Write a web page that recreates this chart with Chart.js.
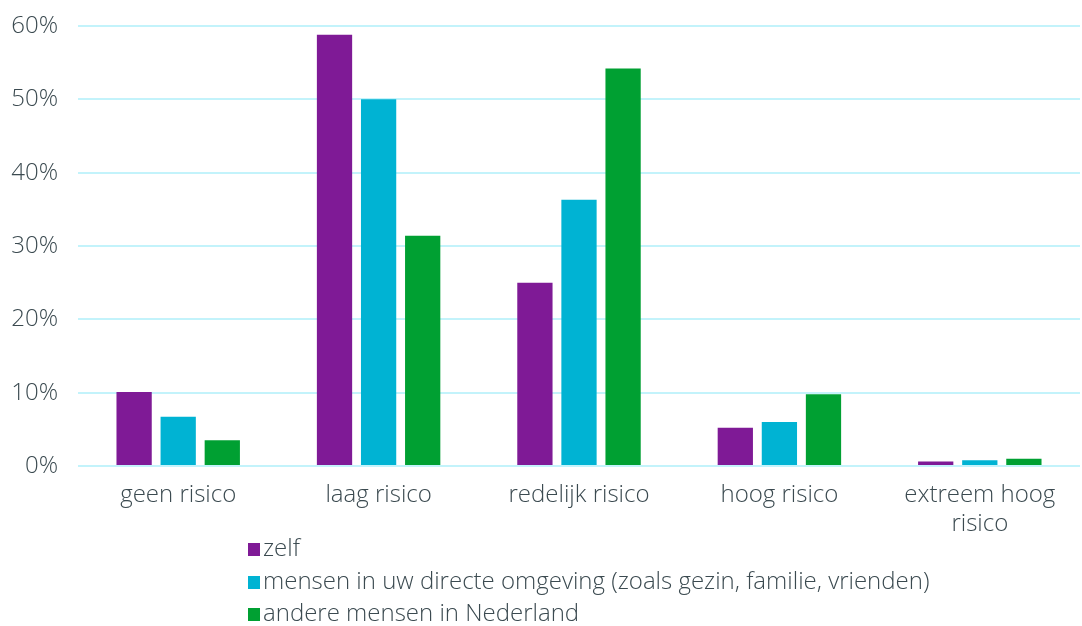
<!DOCTYPE html>
<html>
<head>
<meta charset="utf-8">
<script src="https://cdn.jsdelivr.net/npm/chart.js@4"></script>
<style>
    html, body { margin: 0; padding: 0; background: #fff; }
    #wrap { position: relative; width: 1082px; height: 626px; }
    #legend {
        position: absolute; left: 248px; top: 531px;
        font-family: "Open Sans", sans-serif; font-weight: 300; font-size: 24px; color: #3b4a50;
    }
    .item { height: 32.5px; line-height: 32px; white-space: nowrap; }
    .box { display: inline-block; width: 12px; height: 13px; margin-right: 3px; vertical-align: 0px; }
</style>
</head>
<body>
<div id="wrap">
    <canvas id="chart" width="1082" height="626"></canvas>
    <div id="legend"></div>
</div>
<script>
const categories = ["geen risico", "laag risico", "redelijk risico", "hoog risico", ["extreem hoog", "risico"]]
const seriesNames = ["zelf", "mensen in uw directe omgeving (zoals gezin, familie, vrienden)", "andere mensen in Nederland"]
const zelf = [10.1, 58.8, 25.0, 5.2, 0.6]
const omgeving = [6.7, 50.0, 36.3, 6.0, 0.8]
const nederland = [3.5, 31.4, 54.2, 9.8, 1.0]
const colors = ["#7f1a96", "#00b3d3", "#00a032"]

const textColor = "#3b4a50"
const font = { family: "'Open Sans', sans-serif", size: 24, weight: "300" }

const ctx = document.getElementById("chart").getContext("2d")

const chart = new Chart(ctx, {
    type: "bar",
    data: {
        labels: categories,
        datasets: [zelf, omgeving, nederland].map((d, i) => ({
            label: seriesNames[i],
            data: d,
            backgroundColor: colors[i],
            categoryPercentage: 0.66,
            barPercentage: 0.8
        }))
    },
    options: {
        responsive: false,
        animation: false,
        layout: { padding: { top: 26, right: 2, left: 0, bottom: 80 } },
        plugins: {
            legend: { display: false },
            tooltip: { enabled: false }
        },
        scales: {
            x: {
                grid: { display: false, drawTicks: false },
                border: { display: false },
                ticks: { color: textColor, font: font, padding: 15, maxRotation: 0 },
                afterFit: s => { s.height = 80 }
            },
            y: {
                min: 0,
                max: 60,
                grid: { color: "#c3f3fb", lineWidth: 2, drawTicks: false },
                border: { display: false },
                ticks: {
                    stepSize: 10,
                    color: textColor,
                    font: font,
                    padding: 20,
                    callback: v => v + "%"
                },
                afterFit: s => { s.width = 78; s.paddingTop = 0; s.paddingBottom = 0 }
            }
        }
    }
})

const legend = document.getElementById("legend")
chart.data.datasets.forEach(ds => {
    const row = document.createElement("div")
    row.className = "item"
    const box = document.createElement("span")
    box.className = "box"
    box.style.background = ds.backgroundColor
    row.appendChild(box)
    row.appendChild(document.createTextNode(ds.label))
    legend.appendChild(row)
})
</script>
</body>
</html>
